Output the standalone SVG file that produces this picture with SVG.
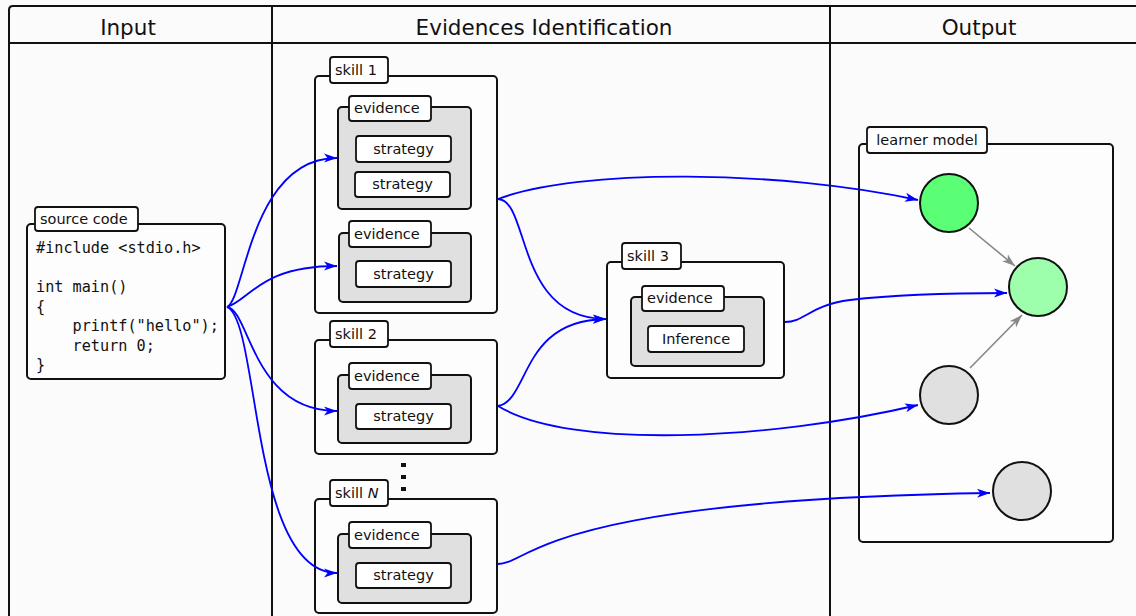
<svg xmlns="http://www.w3.org/2000/svg" width="1136" height="616" viewBox="0 0 1136 616">
  <style>
    .frame { fill: none; stroke: #111; stroke-width: 2; }
    .head { font-family: "DejaVu Sans", sans-serif; font-size: 21.5px; fill: #111; text-anchor: middle; }
    .box { fill: #fdfdfd; stroke: #111; stroke-width: 2; }
    .ev { fill: #e0e0e0; stroke: #111; stroke-width: 2; }
    .tab { fill: #ffffff; stroke: #111; stroke-width: 1.8; }
    .lbl { font-family: "DejaVu Sans", sans-serif; font-size: 14.5px; fill: #111; }
    .mid { text-anchor: middle; }
    .code { font-family: "DejaVu Sans Mono", monospace; font-size: 15.2px; fill: #111; white-space: pre; }
    .blue { fill: none; stroke: #0000ff; stroke-width: 1.8; marker-end: url(#ah-blue); }
    .grey { fill: none; stroke: #888888; stroke-width: 1.6; marker-end: url(#ah-grey); }
    .circ { stroke: #111; stroke-width: 2; }
  </style>
  <defs>
    <marker id="ah-blue" markerUnits="userSpaceOnUse" markerWidth="14" markerHeight="10" refX="13" refY="5" orient="auto">
      <path d="M0,0.5 L13,5 L0,9.5 L3.5,5 Z" fill="#0000ff"/>
    </marker>
    <marker id="ah-grey" markerUnits="userSpaceOnUse" markerWidth="14" markerHeight="10" refX="13" refY="5" orient="auto">
      <path d="M0,0.5 L13,5 L0,9.5 L3.5,5 Z" fill="#888888"/>
    </marker>
  </defs>

  <rect width="1136" height="616" fill="#fbfbfb"/>

  <!-- swimlane frame -->
  <g id="frame">
    <path class="frame" d="M9,630 L9,10 Q9,6 13,6 L1150,6"/>
    <line class="frame" x1="9" y1="43" x2="1150" y2="43"/>
    <line class="frame" x1="272" y1="6" x2="272" y2="630"/>
    <line class="frame" x1="830" y1="6" x2="830" y2="630"/>
    <text class="head" x="128" y="35">Input</text>
    <text class="head" x="544" y="35">Evidences Identification</text>
    <text class="head" x="979" y="35">Output</text>
  </g>

  <!-- input program -->
  <g id="source-code">
    <rect class="box" x="27" y="224" width="198" height="155" rx="4"/>
    <rect class="tab" x="35" y="207" width="103" height="24" rx="3"/>
    <text class="lbl" x="40" y="224">source code</text>
    <text class="code" x="36" y="253">#include &lt;stdio.h&gt;</text>
    <text class="code" x="36" y="292">int main()</text>
    <text class="code" x="36" y="312">{</text>
    <text class="code" x="36" y="331">    printf("hello");</text>
    <text class="code" x="36" y="351">    return 0;</text>
    <text class="code" x="36" y="370">}</text>
  </g>

  <!-- skill 1 -->
  <g id="skill-1">
    <rect class="box" x="315" y="76" width="182" height="237" rx="4"/>
    <rect class="tab" x="330" y="57" width="58" height="26" rx="3"/>
    <text class="lbl" x="335" y="75">skill 1</text>
    <g id="skill-1-evidence-1">
      <rect class="ev" x="338" y="107" width="133" height="102" rx="4"/>
      <rect class="tab" x="349" y="96" width="82" height="25" rx="3"/>
      <text class="lbl" x="354" y="113">evidence</text>
      <rect class="tab" x="356" y="136" width="95" height="26" rx="3"/>
      <text class="lbl mid" x="403.5" y="154">strategy</text>
      <rect class="tab" x="355" y="172" width="95" height="25" rx="3"/>
      <text class="lbl mid" x="402.5" y="189">strategy</text>
    </g>
    <g id="skill-1-evidence-2">
      <rect class="ev" x="339" y="233" width="132" height="69" rx="4"/>
      <rect class="tab" x="349" y="221" width="82" height="26" rx="3"/>
      <text class="lbl" x="354" y="239">evidence</text>
      <rect class="tab" x="356" y="261" width="95" height="26" rx="3"/>
      <text class="lbl mid" x="403.5" y="279">strategy</text>
    </g>
  </g>

  <!-- skill 2 -->
  <g id="skill-2">
    <rect class="box" x="315" y="340" width="182" height="114" rx="4"/>
    <rect class="tab" x="330" y="321" width="58" height="26" rx="3"/>
    <text class="lbl" x="335" y="339">skill 2</text>
    <g id="skill-2-evidence">
      <rect class="ev" x="338" y="375" width="133" height="68" rx="4"/>
      <rect class="tab" x="349" y="363" width="82" height="26" rx="3"/>
      <text class="lbl" x="354" y="381">evidence</text>
      <rect class="tab" x="356" y="404" width="95" height="25" rx="3"/>
      <text class="lbl mid" x="403.5" y="421">strategy</text>
    </g>
  </g>

  <!-- ellipsis between skills -->
  <g id="more-skills" fill="#111">
    <rect x="401" y="463" width="5" height="4"/>
    <rect x="401" y="475" width="5" height="4"/>
    <rect x="401" y="487" width="5" height="4"/>
  </g>

  <!-- skill N -->
  <g id="skill-n">
    <rect class="box" x="315" y="499" width="182" height="114" rx="4"/>
    <rect class="tab" x="330" y="480" width="58" height="26" rx="3"/>
    <text class="lbl" x="335" y="498">skill <tspan font-style="italic">N</tspan></text>
    <g id="skill-n-evidence">
      <rect class="ev" x="338" y="534" width="133" height="69" rx="4"/>
      <rect class="tab" x="349" y="522" width="82" height="26" rx="3"/>
      <text class="lbl" x="354" y="540">evidence</text>
      <rect class="tab" x="356" y="563" width="95" height="25" rx="3"/>
      <text class="lbl mid" x="403.5" y="580">strategy</text>
    </g>
  </g>

  <!-- skill 3 -->
  <g id="skill-3">
    <rect class="box" x="607" y="262" width="177" height="116" rx="4"/>
    <rect class="tab" x="622" y="243" width="59" height="26" rx="3"/>
    <text class="lbl" x="627" y="261">skill 3</text>
    <g id="skill-3-evidence">
      <rect class="ev" x="631" y="297" width="133" height="69" rx="4"/>
      <rect class="tab" x="642" y="286" width="82" height="25" rx="3"/>
      <text class="lbl" x="647" y="303">evidence</text>
      <rect class="tab" x="648" y="326" width="96" height="26" rx="3"/>
      <text class="lbl mid" x="696" y="344">Inference</text>
    </g>
  </g>

  <!-- learner model -->
  <g id="learner-model">
    <rect class="box" x="859" y="144" width="254" height="398" rx="4"/>
    <rect class="tab" x="867" y="127" width="120" height="26" rx="3"/>
    <text class="lbl mid" x="927" y="145">learner model</text>
    <circle id="lm-node-1" class="circ" cx="949" cy="203" r="29" fill="#5aff75"/>
    <circle id="lm-node-2" class="circ" cx="1038" cy="287" r="29" fill="#9dffab"/>
    <circle id="lm-node-3" class="circ" cx="949" cy="395" r="29" fill="#e0e0e0"/>
    <circle id="lm-node-4" class="circ" cx="1022" cy="491" r="29" fill="#e0e0e0"/>
  </g>

  <!-- connectors -->
  <g id="connectors">
    <path class="blue" d="M227,307 C245,300 250,158 337,158"/>
    <path class="blue" d="M227,307 C250,300 260,266 337,266"/>
    <path class="blue" d="M227,307 C250,310 252,411 337,411"/>
    <path class="blue" d="M227,307 C260,320 250,573 337,573"/>

    <path class="blue" d="M498,199 C580,168 780,170 918,200"/>
    <path class="blue" d="M498,199 C530,200 515,319 606,319"/>
    <path class="blue" d="M498,406 C530,400 520,320 606,319"/>
    <path class="blue" d="M498,406 C570,450 770,440 918,405"/>

    <path class="blue" d="M785,322 C805,322 810,305 850,300 C900,294 950,293 1007,293"/>
    <path class="blue" d="M498,564 C530,564 540,500 990,493"/>

    <path class="grey" d="M969,228 L1015,266"/>
    <path class="grey" d="M970,368 L1022,315"/>
  </g>
</svg>
